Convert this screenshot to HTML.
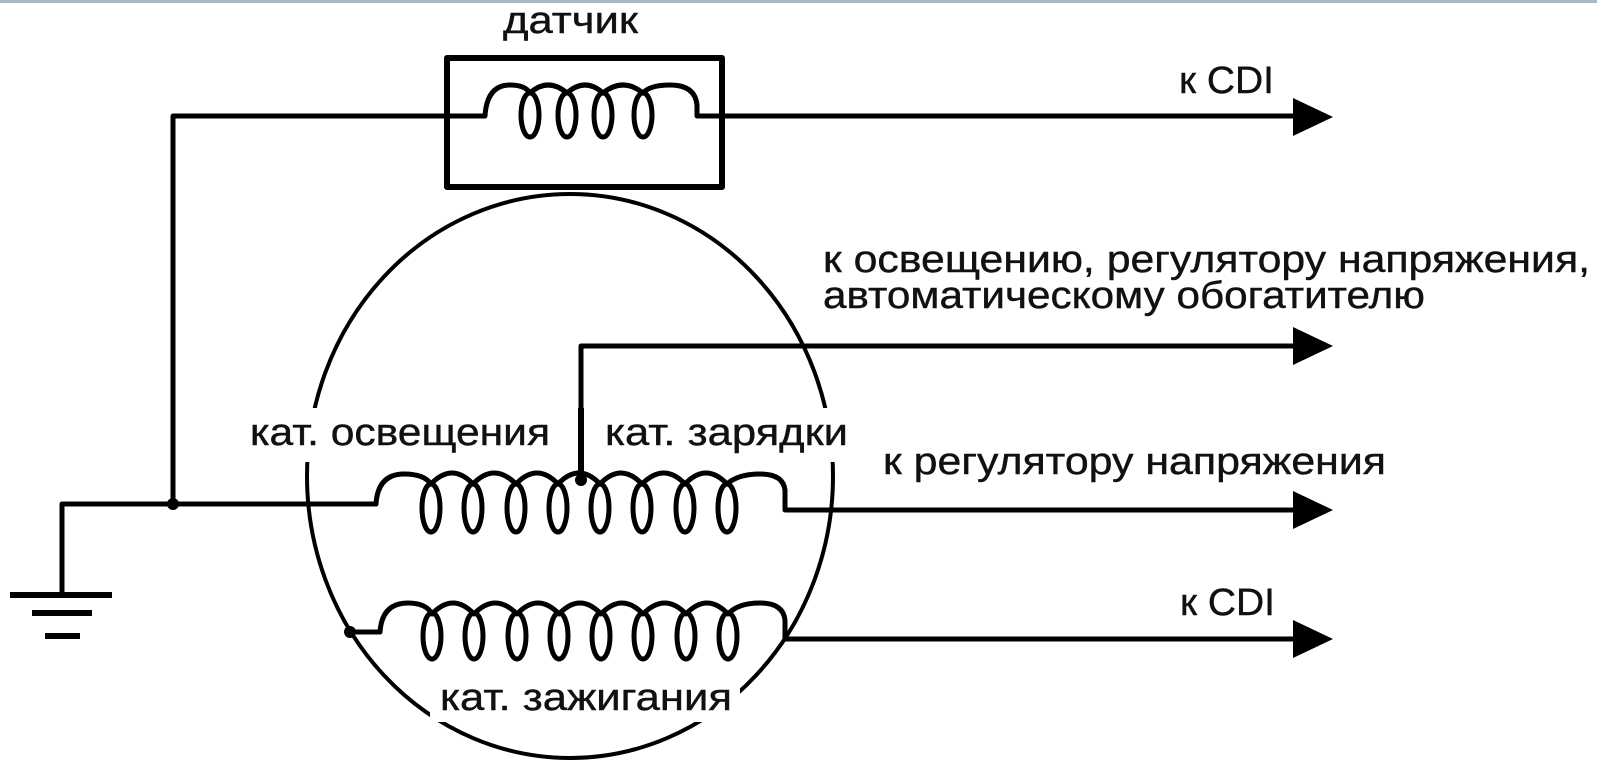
<!DOCTYPE html>
<html><head><meta charset="utf-8"><style>
html,body{margin:0;padding:0;background:#fff;width:1597px;height:763px;overflow:hidden}
svg{display:block}
text{font-family:"Liberation Sans",Arial,sans-serif;font-size:38px;fill:#111;stroke:#111;stroke-width:0.4}
</style></head><body>
<svg width="1597" height="763" viewBox="0 0 1597 763" xmlns="http://www.w3.org/2000/svg">
<rect x="0" y="0" width="1597" height="3" fill="#a8b8cc"/>
<g fill="none" stroke="#000" stroke-width="5" stroke-linejoin="round">
<ellipse cx="570" cy="476" rx="263" ry="282" stroke-width="4"/>
<rect x="447" y="58" width="275" height="129" stroke-width="6"/>
<path d="M173,504 V116 H485 Q487,85 510,85 Q525,85 530,93 Q548,77 567,93 Q585,77 603,93 Q623,77 643,93 Q650,85 670,85 Q695,85 697,105 V116 H1295"/>
<ellipse cx="530" cy="115" rx="9" ry="22"/>
<ellipse cx="567" cy="115" rx="9" ry="22"/>
<ellipse cx="603" cy="115" rx="9" ry="22"/>
<ellipse cx="643" cy="115" rx="9" ry="22"/>
<path d="M62,595 V504 H376 Q378,474 404,474 Q424,474 431,484 Q452,462 473,484 Q494,462 516,484 Q537,462 558,484 Q579,462 600,484 Q621,462 642,484 Q664,462 685,484 Q706,462 727,484 Q738,474 760,474 Q783,474 785,490 V510 H1295"/>
<path d="M10,595 H112 M32,613 H92 M45,636 H80" stroke-width="6"/>
<path d="M581,480 V346 H1295"/>
<path d="M350,632 H380 Q382,603 408,603 Q426,603 432,614 Q453,592 474,614 Q495,592 517,614 Q538,592 559,614 Q580,592 601,614 Q622,592 643,614 Q665,592 686,614 Q707,592 728,614 Q738,603 760,603 Q783,603 785,620 V639 H1295"/>
</g>
<g fill="none" stroke="#000" stroke-width="5">
<ellipse cx="431" cy="508" rx="9" ry="24"/><ellipse cx="473" cy="508" rx="9" ry="24"/><ellipse cx="516" cy="508" rx="9" ry="24"/><ellipse cx="558" cy="508" rx="9" ry="24"/><ellipse cx="600" cy="508" rx="9" ry="24"/><ellipse cx="642" cy="508" rx="9" ry="24"/><ellipse cx="685" cy="508" rx="9" ry="24"/><ellipse cx="727" cy="508" rx="9" ry="24"/>
<ellipse cx="432" cy="636" rx="9" ry="23"/><ellipse cx="474" cy="636" rx="9" ry="23"/><ellipse cx="517" cy="636" rx="9" ry="23"/><ellipse cx="559" cy="636" rx="9" ry="23"/><ellipse cx="601" cy="636" rx="9" ry="23"/><ellipse cx="643" cy="636" rx="9" ry="23"/><ellipse cx="686" cy="636" rx="9" ry="23"/><ellipse cx="728" cy="636" rx="9" ry="23"/>
</g>
<g fill="#000">
<circle cx="173" cy="504" r="6"/><circle cx="581" cy="480" r="6"/><circle cx="350" cy="632" r="6"/>
<polygon points="1293,98 1333,117 1293,136"/>
<polygon points="1293,327 1333,346 1293,365"/>
<polygon points="1293,491 1333,510 1293,529"/>
<polygon points="1293,620 1333,639 1293,658"/>
</g>
<g fill="#fff">
<rect x="245" y="408" width="310" height="54"/>
<rect x="600" y="408" width="252" height="54"/>
<rect x="430" y="676" width="310" height="46"/>
</g>
<rect x="578" y="408" width="6" height="74" fill="#000"/>
<text x="503" y="33" textLength="135" lengthAdjust="spacingAndGlyphs">датчик</text>
<text x="1179" y="93" textLength="95" lengthAdjust="spacingAndGlyphs">к CDI</text>
<text x="823" y="272" textLength="767" lengthAdjust="spacingAndGlyphs">к освещению, регулятору напряжения,</text>
<text x="823" y="308" textLength="602" lengthAdjust="spacingAndGlyphs">автоматическому обогатителю</text>
<text x="250" y="445" textLength="300" lengthAdjust="spacingAndGlyphs">кат. освещения</text>
<text x="605" y="445" textLength="243" lengthAdjust="spacingAndGlyphs">кат. зарядки</text>
<text x="883" y="474" textLength="503" lengthAdjust="spacingAndGlyphs">к регулятору напряжения</text>
<text x="1180" y="615" textLength="95" lengthAdjust="spacingAndGlyphs">к CDI</text>
<text x="440" y="710" textLength="292" lengthAdjust="spacingAndGlyphs">кат. зажигания</text>
</svg>
</body></html>
